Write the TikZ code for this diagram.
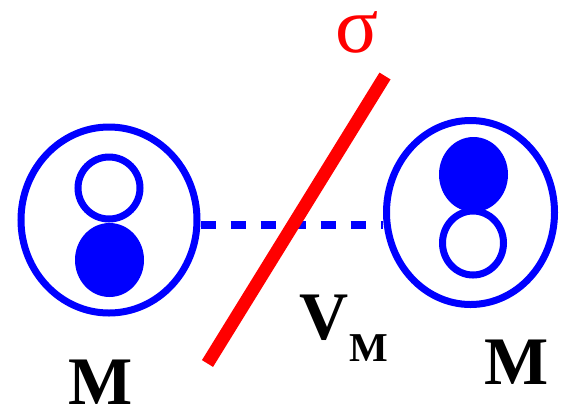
\documentclass[tikz,border=0pt]{standalone}
\usepackage{fontspec}
\setmainfont{Liberation Serif}
\usetikzlibrary{shapes.geometric}

\begin{document}
\begin{tikzpicture}[
    x=1pt, y=-1pt,
    atom/.style={draw=blue, ellipse, line width=7pt, inner sep=0pt},
    shell/.style={draw=blue, ellipse, line width=7pt, inner sep=0pt},
    core/.style={fill=blue, ellipse, inner sep=0pt},
    bond/.style={draw=blue, line width=8pt, dash pattern=on 15pt off 15pt},
    wall/.style={draw=red, line width=13pt},
    lbl/.style={font=\fontsize{68}{68}\selectfont\bfseries, inner sep=0pt},
    sublbl/.style={font=\fontsize{41}{41}\selectfont\bfseries, inner sep=0pt}
]
\useasboundingbox (0,0) rectangle (561,408);
% Left molecule
\node[atom, minimum width=176pt, minimum height=186pt] (ml) at (109,220) {};
\node[shell, minimum width=62pt, minimum height=62pt] (mlo) at (109,188) {};
\node[core, minimum width=69pt, minimum height=74pt] (mlf) at (109.5,260) {};
% Right molecule
\node[atom, minimum width=168pt, minimum height=184pt] (mr) at (470.5,212.5) {};
\node[core, minimum width=69pt, minimum height=75pt] (mrf) at (473.5,174.5) {};
\node[shell, minimum width=61pt, minimum height=64pt] (mro) at (473,243) {};
% Interaction
\draw[bond] ([yshift=-5pt]ml.east) -- ([yshift=-12.5pt]mr.west);
% Surface
\coordinate (wtop) at (385,76);
\coordinate (wbot) at (207.5,363.5);
\draw[wall] (wbot) -- (wtop);
% Labels
\node[inner sep=0pt, text=red, font=\fontsize{80}{80}\selectfont] (sigma) at (357,32) {σ};
\node[lbl] (vlbl) at (324.5,317.5) {V};
\node[sublbl] (vsub) at (368.5,348.5) {M};
\node[lbl] (mleft) at (101,382.5) {M};
\node[lbl] (mright) at (516.5,362.5) {M};
\end{tikzpicture}
\end{document}
